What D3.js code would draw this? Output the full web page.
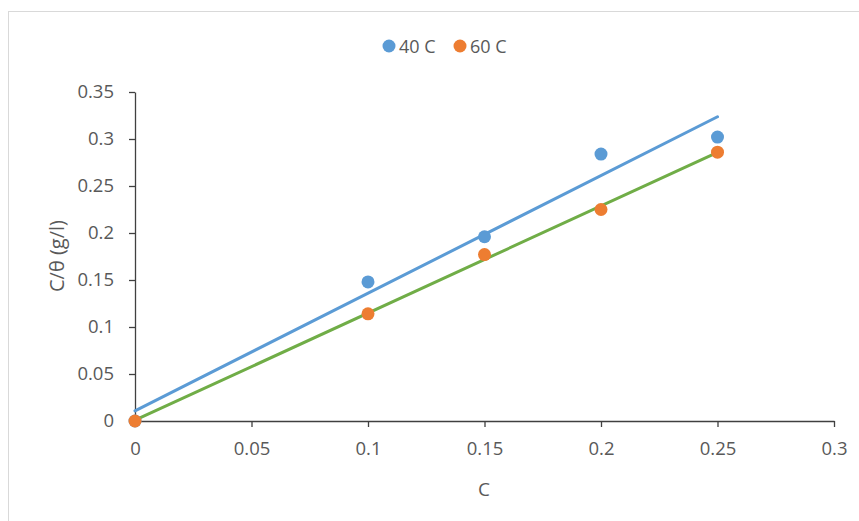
<!DOCTYPE html>
<html><head><meta charset="utf-8">
<script src="https://cdn.jsdelivr.net/npm/d3@7"></script>
<style>body{margin:0;background:#fff}svg{display:block}text{font-family:"Open Sans",sans-serif;fill:#595959}</style>
</head><body>
<svg id="c" width="859" height="521"></svg>
<script>
const xValues = [0, 0.1, 0.15, 0.2, 0.25];
const y40 = [0, 0.148, 0.196, 0.284, 0.302];
const y60 = [0, 0.114, 0.177, 0.225, 0.286];
const seriesNames = ["40 C", "60 C"];
const xTicks = [0, 0.05, 0.1, 0.15, 0.2, 0.25, 0.3];
const yTicks = [0, 0.05, 0.1, 0.15, 0.2, 0.25, 0.3, 0.35];
const colors = ["#5B9BD5", "#ED7D31"];
const trendColors = ["#5B9BD5", "#70AD47"];

const svg = d3.select("#c");
svg.append("rect").attr("x",8.5).attr("y",11.5).attr("width",900).attr("height",600)
  .attr("fill","none").attr("stroke","#d9d9d9").attr("stroke-width",1);

const x = d3.scaleLinear().domain([0,0.3]).range([135,834]);
const y = d3.scaleLinear().domain([0,0.35]).range([421,92]);

const fmt = d => String(+d.toFixed(2));
// x axis
const xa = svg.append("g").attr("transform",`translate(0,${y(0)})`)
  .call(d3.axisBottom(x).tickValues(xTicks).tickFormat(fmt).tickSize(6).tickSizeOuter(0).tickPadding(15));
xa.select(".domain").attr("stroke","#404040").attr("stroke-width",1.3);
xa.selectAll(".tick line").attr("stroke","#404040").attr("stroke-width",1.3);
xa.selectAll("text").style("font-size","18.5px").attr("fill","#595959");
// y axis
const ya = svg.append("g").attr("transform",`translate(${x(0)},0)`)
  .call(d3.axisLeft(y).tickValues(yTicks).tickFormat(fmt).tickSize(6).tickSizeOuter(0).tickPadding(15));
ya.select(".domain").attr("stroke","#404040").attr("stroke-width",1.3);
ya.selectAll(".tick line").attr("stroke","#404040").attr("stroke-width",1.3);
ya.selectAll("text").style("font-size","18.5px").attr("fill","#595959");

// axis titles
svg.append("text").attr("x",484).attr("y",496).attr("text-anchor","middle").style("font-size","19px").text("C");
svg.append("text").attr("transform","translate(64,256) rotate(-90)").attr("text-anchor","middle").style("font-size","20px").text("C/θ (g/l)");

// trendlines (least squares)
function fit(xs, ys){
  const mx=d3.mean(xs), my=d3.mean(ys);
  let sxy=0,sxx=0; xs.forEach((v,i)=>{sxy+=(v-mx)*(ys[i]-my);sxx+=(v-mx)*(v-mx);});
  const m=sxy/sxx; return {m, b: my-m*mx};
}
[y40,y60].forEach((ys,i)=>{
  const f=fit(xValues,ys);
  const x0=d3.min(xValues), x1=d3.max(xValues);
  svg.append("line").attr("x1",x(x0)).attr("y1",y(f.m*x0+f.b)).attr("x2",x(x1)).attr("y2",y(f.m*x1+f.b))
    .attr("stroke",trendColors[i]).attr("stroke-width",3).attr("stroke-linecap","round");
});
// points
[y40,y60].forEach((ys,i)=>{
  svg.append("g").selectAll("circle").data(xValues.map((v,j)=>[v,ys[j]])).join("circle")
    .attr("cx",d=>x(d[0])).attr("cy",d=>y(d[1])).attr("r",6.5).attr("fill",colors[i]);
});

// legend
const lg = svg.append("g");
const lx=[389,460];
seriesNames.forEach((n,i)=>{
  lg.append("circle").attr("cx",lx[i]).attr("cy",46).attr("r",6.5).attr("fill",colors[i]);
  lg.append("text").attr("x",lx[i]+10).attr("y",52.5).style("font-size","18px").text(n);
});
</script>
</body></html>
